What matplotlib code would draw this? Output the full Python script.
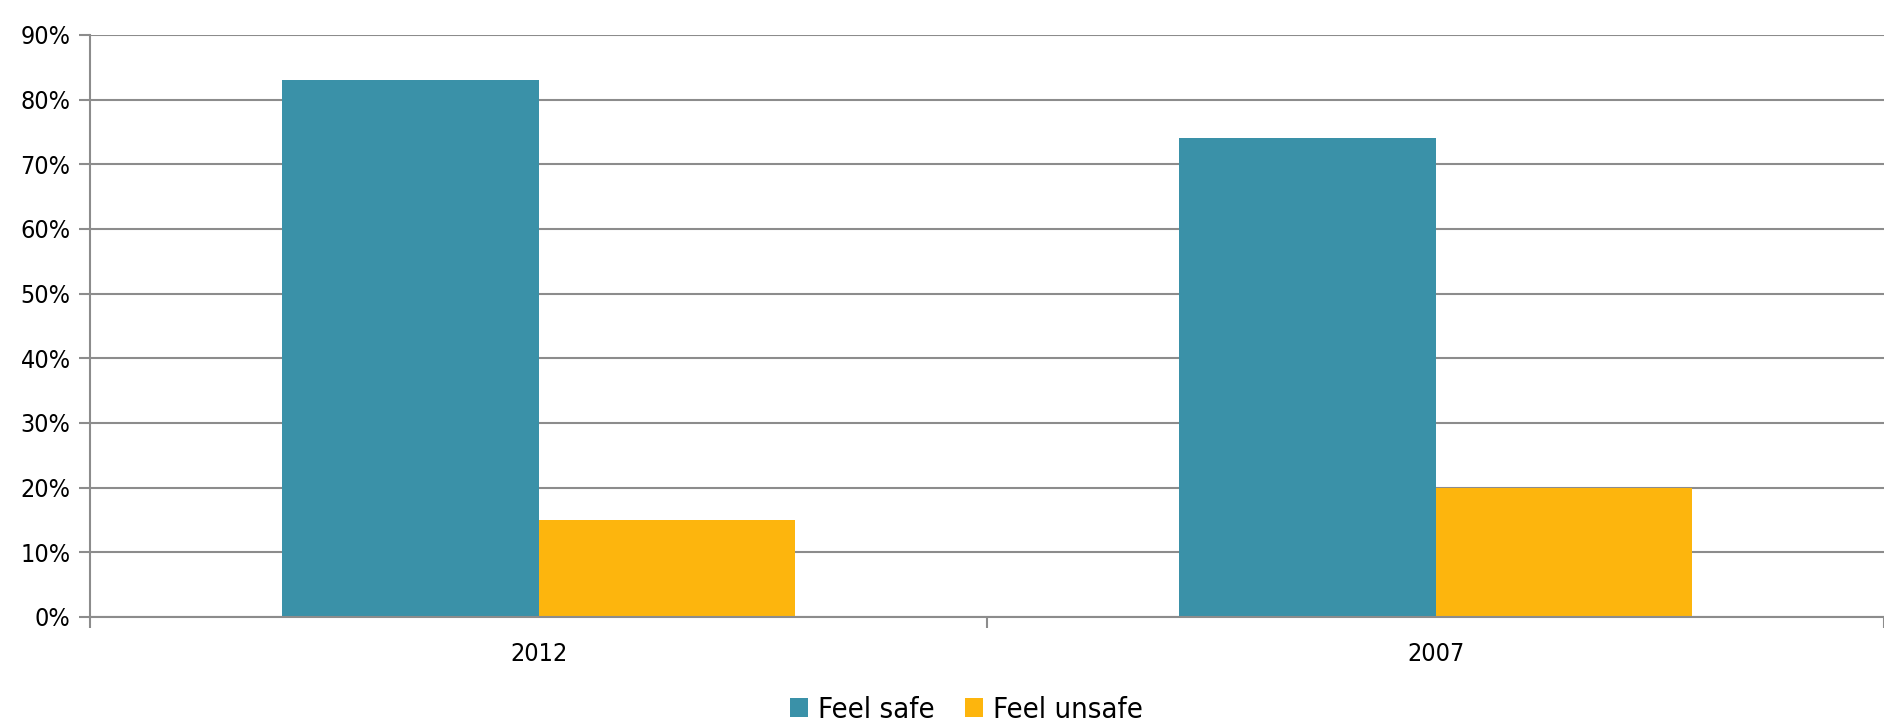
import matplotlib.pyplot as plt
import numpy as np

# Share of respondents feeling safe / unsafe, by survey year
years = ["2012", "2007"]
feel_safe = [83, 74]
feel_unsafe = [15, 20]
series_names = ["Feel safe", "Feel unsafe"]
colors = ["#3A91A8", "#FDB50D"]

plt.rcParams['font.family'] = ['DejaVu Sans']
plt.rcParams['font.stretch'] = 'condensed'

fig = plt.figure(figsize=(18.84, 7.24), dpi=100)
ax = fig.add_axes([0.0478, 0.1478, 0.9522, 0.8039])

x = np.arange(len(years))
w = 0.286
ax.bar(x - w / 2, feel_safe, w, color=colors[0], label=series_names[0], zorder=2)
ax.bar(x + w / 2, feel_unsafe, w, color=colors[1], label=series_names[1], zorder=2)

ax.set_xlim(-0.5, 1.5)
ax.set_ylim(0, 90)
ax.set_yticks(range(0, 91, 10))
ax.set_yticklabels(["%d%%" % v for v in range(0, 91, 10)], fontsize=18)
ax.yaxis.grid(True, color="#8c8c8c", linewidth=1.5, zorder=0)
ax.set_axisbelow(True)

# group boundaries get the tick marks, the year labels sit between them
ax.set_xticks([-0.5, 0.5, 1.5])
ax.set_xticklabels(["", "", ""])
ax.set_xticks(x, minor=True)
ax.set_xticklabels(years, minor=True, fontsize=18)
ax.tick_params(axis="x", which="minor", length=0, pad=18)
ax.tick_params(axis="x", which="major", length=8, width=1.5, color="#8c8c8c")
ax.tick_params(axis="y", length=8, width=1.5, color="#8c8c8c", pad=6)

for side in ["top", "right"]:
    ax.spines[side].set_visible(False)
for side in ["left", "bottom"]:
    ax.spines[side].set_color("#8c8c8c")
    ax.spines[side].set_linewidth(1.5)

fig.legend(loc="center", bbox_to_anchor=(0.513, 0.02), ncol=2, frameon=False,
           fontsize=21, handlelength=0.62, handleheight=0.62, handletextpad=0.35,
           columnspacing=1.05)

fig.savefig("out.png", dpi=100)
